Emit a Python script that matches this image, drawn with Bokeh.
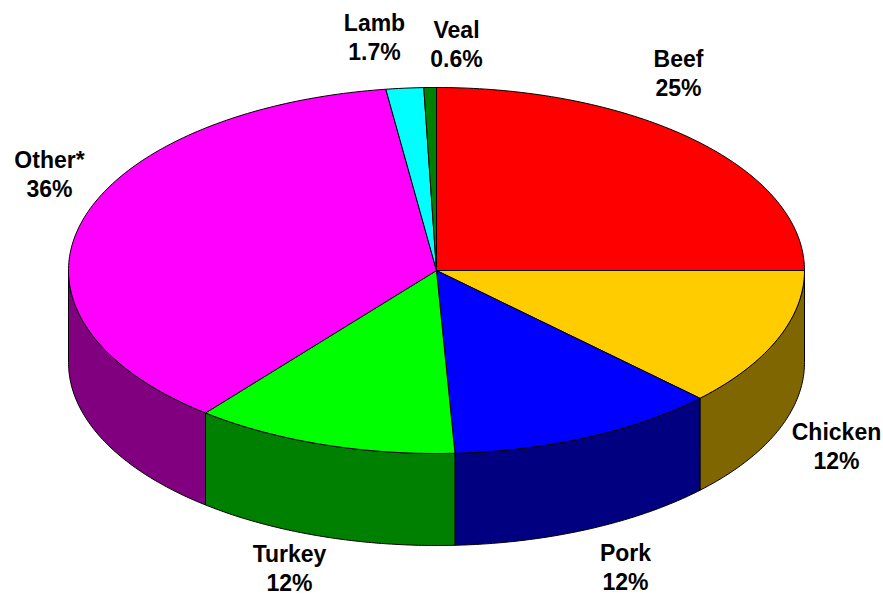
import math
from bokeh.plotting import figure
from bokeh.embed import file_html
from bokeh.resources import INLINE
from bokeh.core.properties import value

categories = ["Beef", "Chicken", "Pork", "Turkey", "Other*", "Lamb", "Veal"]
shares = [25.0, 12.3, 11.9, 11.6, 37.0, 1.65, 0.55]
labels = ["25%", "12%", "12%", "12%", "36%", "1.7%", "0.6%"]
top_colors = ["#FF0000", "#FFCC00", "#0000FF", "#00FF00", "#FF00FF", "#00FFFF", "#008000"]
side_colors = ["#800000", "#806600", "#000080", "#008000", "#800080", "#008080", "#004000"]
label_x = [678, 836, 625, 289, 49, 374, 456]
label_y = [73, 446, 567, 568, 174, 37, 44]

W, H = 883, 595
CX, CY, RX, RY, DEPTH = 436, 270, 368, 183, 92

p = figure(width=W, height=H, x_range=(0, W), y_range=(H, 0), output_backend="svg",
           toolbar_location=None, min_border=0, outline_line_color=None)
p.axis.visible = False
p.grid.visible = False
p.background_fill_color = "white"


def pt(a):
    return CX + RX * math.sin(a), CY - RY * math.cos(a)


total = sum(shares)
edges = [0.0]
for s in shares:
    edges.append(edges[-1] + s / total * 2 * math.pi)

# side walls: only the front half of the rim (angles from 90deg to 270deg, clockwise from top)
for i in range(len(shares)):
    a0 = max(edges[i], math.pi / 2)
    a1 = min(edges[i + 1], 3 * math.pi / 2)
    if a1 <= a0:
        continue
    n = 80
    arc = [a0 + (a1 - a0) * k / n for k in range(n + 1)]
    xs = [pt(a)[0] for a in arc]
    ys = [pt(a)[1] for a in arc]
    p.patch(xs + xs[::-1], ys + [y + DEPTH for y in ys[::-1]],
            fill_color=side_colors[i], line_color="black", line_width=1)

# top slices
for i in range(len(shares)):
    n = max(4, int((edges[i + 1] - edges[i]) * 60))
    arc = [edges[i] + (edges[i + 1] - edges[i]) * k / n for k in range(n + 1)]
    xs = [CX] + [pt(a)[0] for a in arc]
    ys = [CY] + [pt(a)[1] for a in arc]
    p.patch(xs, ys, fill_color=top_colors[i], line_color="black", line_width=1)

for name, pct, x, y in zip(categories, labels, label_x, label_y):
    p.text([x], [y], text=[name + "\n" + pct], text_font=value("Liberation Sans"),
           text_font_style="bold", text_font_size="23px", text_align="center",
           text_baseline="middle", text_color="black", text_line_height=1.15)

open("out.html", "w").write(file_html(p, INLINE))
